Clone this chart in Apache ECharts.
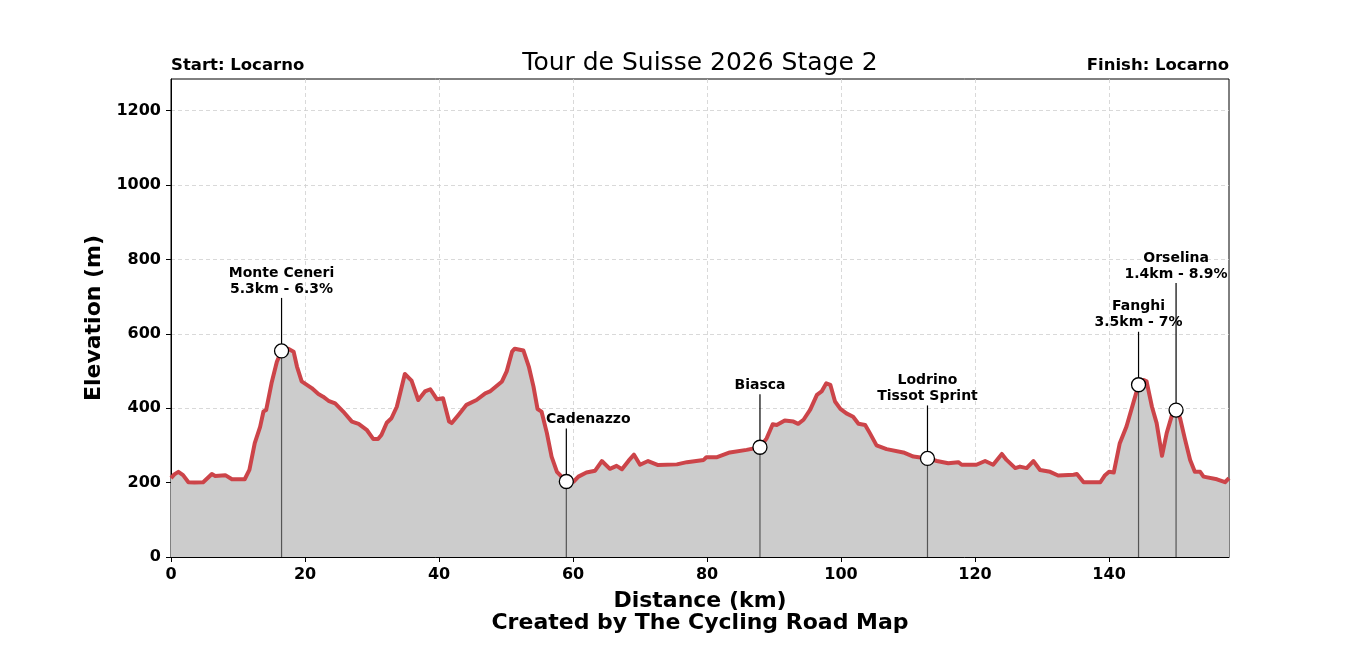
<!DOCTYPE html>
<html>
<head>
<meta charset="utf-8">
<script src="https://cdn.jsdelivr.net/npm/echarts@6/dist/echarts.min.js"></script>
<style>
  html, body { margin: 0; padding: 0; background: #fff; }
  #profile { width: 1366px; height: 655px; }
</style>
</head>
<body>
<div id="profile"></div>
<script>
// Route profile
var distKm = [
  0.0, 0.5, 1.1, 1.8, 2.6, 3.5, 4.8, 6.1, 6.6, 8.1, 9.1, 11.0, 11.7, 12.5, 13.3, 13.8, 14.2, 15.0, 15.8, 16.5,
  17.5, 18.3, 18.8, 19.5, 21.0, 22.0, 22.7, 23.5, 24.5, 25.7, 27.0, 28.0, 29.2, 30.2, 30.9, 31.4, 32.2, 32.9, 33.7, 34.2,
  34.9, 35.9, 36.9, 37.9, 38.7, 39.7, 40.6, 41.5, 41.9, 42.9, 44.1, 45.6, 46.9, 47.6, 49.4, 50.1, 50.9, 51.3, 52.6, 53.4,
  54.1, 54.7, 55.3, 56.1, 56.8, 57.6, 59.0, 60.1, 60.8, 62.0, 63.3, 64.3, 65.5, 66.5, 67.3, 68.3, 69.1, 70.0, 71.2, 72.7,
  75.5, 77.0, 79.5, 79.9, 81.4, 83.4, 85.9, 87.9, 88.9, 89.8, 90.4, 91.6, 92.9, 93.6, 94.4, 95.4, 96.4, 97.1, 97.8, 98.4,
  99.1, 99.9, 100.8, 101.8, 102.6, 103.6, 104.3, 105.3, 106.8, 109.3, 110.8, 112.9, 114.3, 116.0, 117.5, 118.0, 120.2, 121.5, 122.7, 124.0,
  124.7, 126.0, 126.7, 127.7, 128.7, 129.7, 131.2, 132.4, 134.7, 135.2, 136.2, 138.7, 139.4, 140.0, 140.7, 141.6, 142.6, 143.6, 144.4, 145.1,
  145.6, 146.4, 147.1, 147.9, 148.6, 149.4, 150.0, 150.6, 151.3, 152.1, 152.8, 153.6, 154.1, 156.1, 157.3, 157.9
];
var elevM = [
  212, 222, 229, 220, 201, 200, 201, 223, 218, 220, 209, 209, 234, 306, 350, 391, 395, 467, 525, 554,
  560, 552, 512, 472, 454, 438, 431, 420, 413, 391, 364, 358, 342, 317, 317, 328, 361, 373, 404, 440,
  492, 474, 422, 445, 451, 424, 427, 364, 360, 382, 409, 422, 440, 445, 472, 499, 552, 560, 555, 512,
  458, 398, 391, 333, 270, 229, 203, 203, 216, 227, 232, 258, 237, 245, 236, 259, 275, 248, 258, 247,
  249, 255, 261, 268, 268, 281, 288, 295, 319, 357, 355, 367, 364, 358, 369, 396, 436, 445, 467, 463,
  418, 398, 386, 377, 358, 355, 333, 300, 290, 281, 270, 265, 258, 252, 255, 248, 248, 258, 248, 277,
  261, 239, 243, 239, 258, 234, 229, 219, 221, 223, 201, 201, 220, 229, 227, 306, 351, 413, 463, 476,
  472, 404, 360, 272, 333, 382, 395, 373, 319, 261, 229, 229, 216, 209, 201, 212
];

// Climbs and sprints
var pointNames = ['Monte Ceneri\n5.3km - 6.3%', 'Cadenazzo', 'Biasca', 'Lodrino\nTissot Sprint', 'Fanghi\n3.5km - 7%', 'Orselina\n1.4km - 8.9%'];
var pointKm = [16.5, 59.0, 87.9, 112.9, 144.4, 150.0];
var pointElev = [554, 203, 295, 265, 463, 395];

var xTicks = [0, 20, 40, 60, 80, 100, 120, 140];
var yTicks = [0, 200, 400, 600, 800, 1000, 1200];

// label stem lengths and sideways nudges in px
var stemPx = [53, 53, 53, 53, 53, 127];
var nudgePx = [0, 22, 0, 0, 0, 0];

var chart = echarts.init(document.getElementById('profile'));

var profileData = distKm.map(function (d, i) { return [d, elevM[i]]; });
var pointData = pointKm.map(function (d, i) { return [d, pointElev[i], i]; });

var tickFont = { color: '#000', fontSize: 16, fontWeight: 'bold', fontFamily: 'DejaVu Sans' };
function plain(v) { return String(v); }

var option = {
  backgroundColor: '#fff',
  animation: false,
  title: [
    { text: 'Tour de Suisse 2026 Stage 2', left: 700, top: 51, textAlign: 'center', padding: 0,
      textStyle: { fontSize: 25, fontWeight: 'normal', color: '#000', fontFamily: 'DejaVu Sans' } },
    { text: 'Start: Locarno', left: 171, top: 57, padding: 0,
      textStyle: { fontSize: 16.5, fontWeight: 'bold', color: '#000', fontFamily: 'DejaVu Sans' } },
    { text: 'Finish: Locarno', right: 137, top: 57, padding: 0,
      textStyle: { fontSize: 16.5, fontWeight: 'bold', color: '#000', fontFamily: 'DejaVu Sans' } },
    { text: 'Distance (km)', left: 700, top: 590, textAlign: 'center', padding: 0,
      textStyle: { fontSize: 22, fontWeight: 'bold', color: '#000', fontFamily: 'DejaVu Sans' } },
    { text: 'Created by The Cycling Road Map', left: 700, top: 612, textAlign: 'center', padding: 0,
      textStyle: { fontSize: 22, fontWeight: 'bold', color: '#000', fontFamily: 'DejaVu Sans' } }
  ],
  grid: {
    left: 171, right: 137, top: 79, bottom: 98,
    show: true, borderColor: '#000', borderWidth: 1, backgroundColor: 'transparent'
  },
  xAxis: {
    type: 'value',
    min: 0, max: 157.9, interval: 20,
    axisLine: { show: true, onZero: false, lineStyle: { color: '#000', width: 1 } },
    axisTick: { show: true, inside: false, length: 5, lineStyle: { color: '#000' },
      customValues: xTicks },
    axisLabel: Object.assign({ margin: 10, customValues: xTicks, formatter: plain }, tickFont),
    splitLine: { show: true, lineStyle: { type: [4, 3], color: '#cfcfcf', width: 0.8 } }
  },
  yAxis: {
    type: 'value',
    min: 0, max: 1285, interval: 200,
    name: 'Elevation (m)',
    nameLocation: 'middle',
    nameGap: 56,
    nameTextStyle: { fontSize: 22, fontWeight: 'bold', color: '#000', fontFamily: 'DejaVu Sans' },
    axisLine: { show: true, lineStyle: { color: '#000', width: 1 } },
    axisTick: { show: true, inside: false, length: 5, lineStyle: { color: '#000' },
      customValues: yTicks },
    axisLabel: Object.assign({ margin: 10, customValues: yTicks, formatter: plain }, tickFont),
    splitLine: { show: true, lineStyle: { type: [4, 3], color: '#cfcfcf', width: 0.8 } }
  },
  series: [
    {
      type: 'line',
      data: profileData,
      symbol: 'none',
      smooth: false,
      lineStyle: { color: '#cc4449', width: 4, join: 'round' },
      areaStyle: { color: '#cccccc', opacity: 1, origin: 'start' },
      z: 2
    },
    {
      type: 'custom',
      data: pointData,
      z: 5,
      renderItem: function (params, api) {
        var i = api.value(2);
        var p = api.coord([api.value(0), api.value(1)]);
        var base = api.coord([api.value(0), 0]);
        var top = p[1] - stemPx[i];
        return {
          type: 'group',
          children: [
            { type: 'line', shape: { x1: p[0], y1: base[1], x2: p[0], y2: p[1] },
              style: { stroke: '#555', lineWidth: 1.2 } },
            { type: 'line', shape: { x1: p[0], y1: p[1], x2: p[0], y2: top },
              style: { stroke: '#000', lineWidth: 1.2 } },
            { type: 'circle', shape: { cx: p[0], cy: p[1], r: 7 },
              style: { fill: '#fff', stroke: '#000', lineWidth: 1.3 } },
            { type: 'text', x: p[0] + nudgePx[i], y: top - 1,
              style: { text: pointNames[i], align: 'center', verticalAlign: 'bottom',
                font: 'bold 14px "DejaVu Sans"', lineHeight: 16, fill: '#000' } }
          ]
        };
      }
    }
  ]
};

chart.setOption(option);

window.addEventListener('resize', function () {
  chart.resize();
});
</script>
</body>
</html>
